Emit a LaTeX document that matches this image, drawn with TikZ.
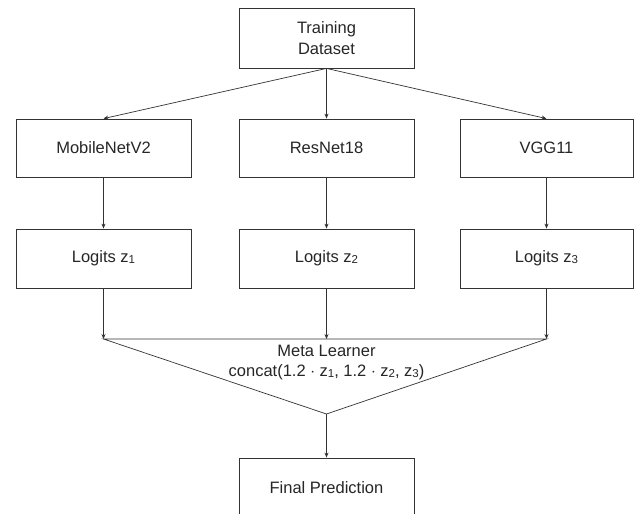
\documentclass[tikz,border=0pt]{standalone}
\usepackage{fontspec}
\setmainfont{Liberation Sans}
\usetikzlibrary{arrows.meta}
\newcommand{\subd}[1]{\raisebox{-0.8pt}{\fontsize{11.5}{11.5}\selectfont #1}}
\definecolor{ink}{HTML}{333333}
\begin{document}
\begin{tikzpicture}[x=1pt,y=-1pt,
  box/.style={draw=ink,line width=0.8pt,minimum width=175pt,minimum height=59pt,inner sep=0pt,
    font=\fontsize{16.5}{21}\selectfont,align=center,text=black!85},
  conn/.style={draw=ink,line width=0.7pt,-{Stealth[length=5pt,width=4pt]}},
  plain/.style={draw=ink,line width=0.7pt}]
\clip (0,0) rectangle (641,514);
\fill[white] (0,0) rectangle (641,514);
\node[box,minimum height=60pt] (train) at (326.5,38) {Training\\Dataset};
\node[box,minimum height=58pt] (mob) at (103.5,148) {MobileNetV2};
\node[box,minimum height=58pt] (res) at (326.5,148) {ResNet18};
\node[box,minimum height=58pt,minimum width=173pt] (vgg) at (546.5,148) {VGG11};
\node[box] (l1) at (103.5,258.5) {Logits z\subd{1}};
\node[box] (l2) at (326.5,258.5) {Logits z\subd{2}};
\node[box,minimum width=173pt] (l3) at (546.5,258.5) {Logits z\subd{3}};
\node[box] (fin) at (326.5,487.5) {Final Prediction};
\coordinate (ml1) at (103.5,339);
\coordinate (ml2) at (326.5,339);
\coordinate (ml3) at (546.5,339);
\coordinate (mlb) at (326.5,414);
\node[font=\fontsize{16.5}{20}\selectfont,align=center,text=black!85,inner sep=0pt] (meta) at (326.5,362.5)
  {Meta Learner\\concat(1.2 $\cdot$ z\subd{1}, 1.2 $\cdot$ z\subd{2}, z\subd{3})};
\draw[conn] (train.south) -- (mob.north);
\draw[conn] (train.south) -- (res.north);
\draw[conn] (train.south) -- (vgg.north);
\draw[conn] (mob) -- (l1);
\draw[conn] (res) -- (l2);
\draw[conn] (vgg) -- (l3);
\draw[conn] (l1) -- (ml1);
\draw[conn] (l2) -- (ml2);
\draw[conn] (l3) -- (ml3);
\draw[plain] (ml1) -- (ml3) -- (mlb) -- cycle;
\draw[conn] (mlb) -- (fin);
\end{tikzpicture}
\end{document}
